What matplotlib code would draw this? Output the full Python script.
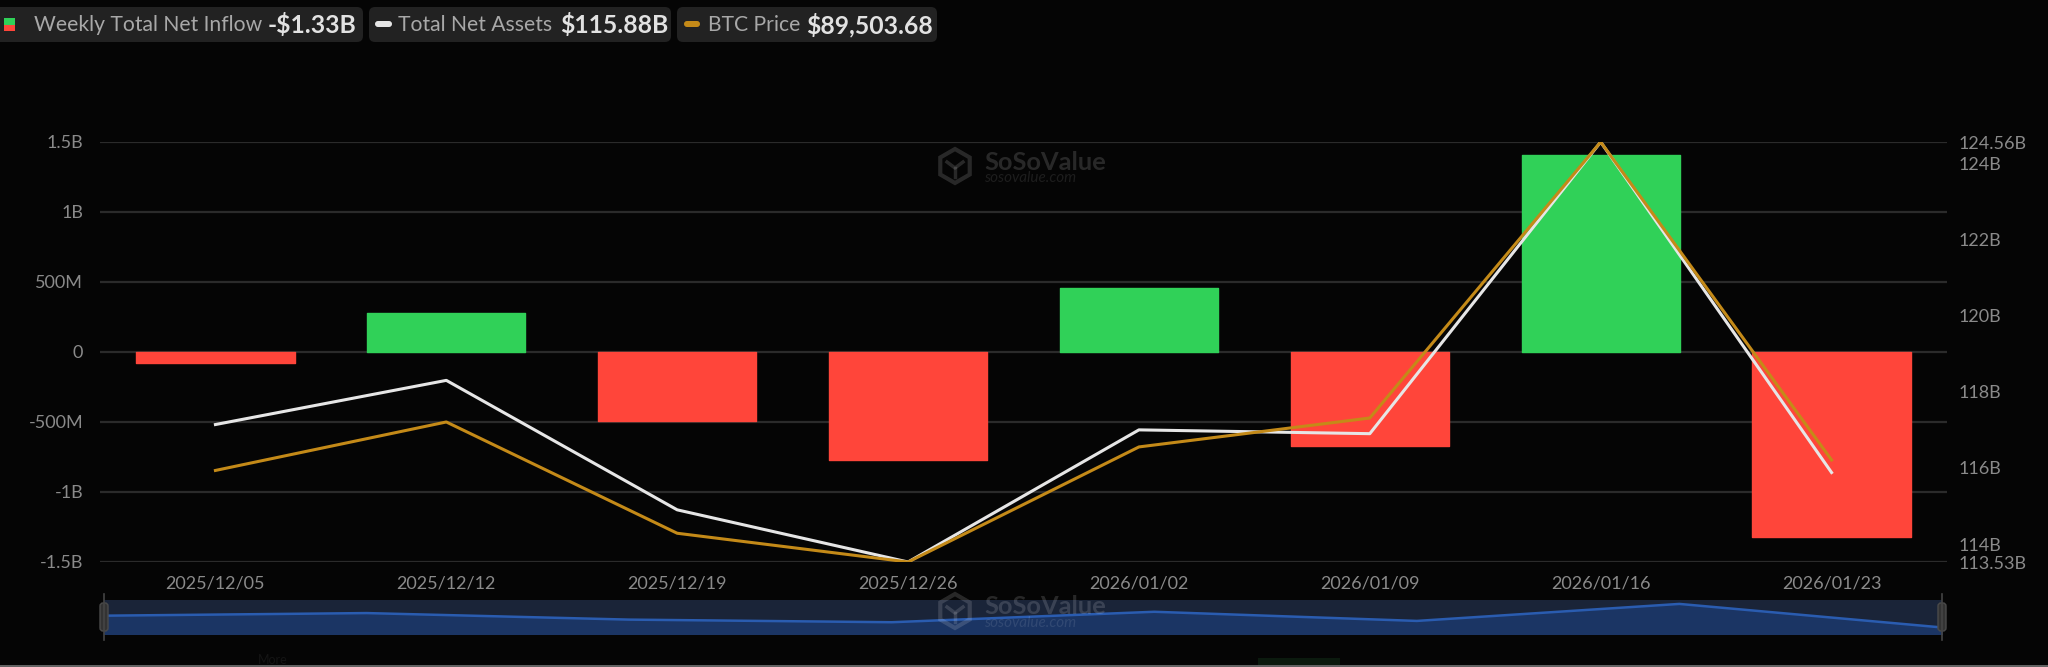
import matplotlib
matplotlib.use("Agg")
import matplotlib.pyplot as plt
from matplotlib.patches import FancyBboxPatch, RegularPolygon, Rectangle

plt.rcParams['font.family'] = ['Lato', 'DejaVu Sans']

dates = ["2025/12/05", "2025/12/12", "2025/12/19", "2025/12/26",
         "2026/01/02", "2026/01/09", "2026/01/16", "2026/01/23"]
net_inflow = [-0.075, 0.28, -0.49, -0.77, 0.455, -0.67, 1.41, -1.32]
net_assets = [117.14, 118.3, 114.9, 113.53, 117.0, 116.9, 124.56, 115.88]
btc_price = [89277, 90324, 87921, 87300, 89785, 90410, 96370, 89503.68]
nav_values = [14, 16, 11, 9, 17, 10, 23, 5]

left_ticks = [-1.5, -1, -0.5, 0, 0.5, 1, 1.5]
left_labels = ["-1.5B", "-1B", "-500M", "0", "500M", "1B", "1.5B"]
right_ticks = [113.53, 114, 116, 118, 120, 122, 124, 124.56]
right_labels = ["113.53B", "114B", "116B", "118B", "120B", "122B", "124B", "124.56B"]

BG = "#050505"
GREEN = "#30d158"
RED = "#ff453a"
GOLD = "#c48a18"
WHITE = "#e6e6e6"
GREY = "#8a8a8a"

W, H = 2048, 667
fig = plt.figure(figsize=(W / 100, H / 100), dpi=100, facecolor=BG)


def px_axes(x0, y0, x1, y1):
    return fig.add_axes([x0 / W, 1 - y1 / H, (x1 - x0) / W, (y1 - y0) / H])


ax = px_axes(100, 142, 1947, 562)
ax.set_facecolor("none")
xs = range(len(dates))
colors = [GREEN if v >= 0 else RED for v in net_inflow]
# same colour edge with round joins gives the small corner radius
ax.bar(xs, net_inflow, width=0.685, color=colors, edgecolor=colors, lw=1.0, joinstyle="round", zorder=2)
ax.set_xlim(-0.5, 7.5)
ax.set_ylim(-1.5, 1.5)
ax.set_yticks(left_ticks)
ax.set_yticklabels(left_labels)
ax.set_xticks(list(xs))
ax.set_xticklabels(dates)
ax.grid(axis="y", color="#2b2b2b", lw=1.6, zorder=0)
ax.tick_params(axis="both", length=0, colors=GREY, labelsize=13)
ax.tick_params(axis="x", pad=10)
ax.tick_params(axis="y", pad=12)
for s in ax.spines.values():
    s.set_visible(False)

ax2 = ax.twinx()
ax2.plot(xs, net_assets, color=WHITE, lw=2.2, zorder=4)
ax2.set_ylim(113.53, 124.56)
ax2.set_yticks(right_ticks)
ax2.set_yticklabels(right_labels)
ax2.tick_params(axis="y", length=0, colors=GREY, labelsize=13, pad=8)
for s in ax2.spines.values():
    s.set_visible(False)

ax3 = ax.twinx()
ax3.plot(xs, btc_price, color=GOLD, lw=2.2, zorder=5)
ax3.set_ylim(87300, 96370)
ax3.axis("off")

# navigator
nav = px_axes(104, 600, 1942, 634)
nav.set_facecolor("#1a2438")
nav.fill_between(xs, nav_values, color="#1b3564")
nav.plot(xs, nav_values, color="#2a5cb0", lw=1.8)
nav.set_xlim(0, 7)
nav.set_ylim(0, 26)
nav.set_xticks([])
nav.set_yticks([])
for s in nav.spines.values():
    s.set_visible(False)

# overlay in pixel space for legend, watermark and navigator handles
ov = fig.add_axes([0, 0, 1, 1], zorder=10)
ov.set_xlim(0, W)
ov.set_ylim(H, 0)
ov.axis("off")


def pill(x0, x1):
    ov.add_patch(FancyBboxPatch((x0, 7), x1 - x0, 35, boxstyle="round,pad=0,rounding_size=6",
                                fc="#222222", ec="none"))


pill(-8, 363)
pill(369, 671)
pill(677, 937)

ov.add_patch(Rectangle((4, 18), 11, 7, fc=GREEN, ec="none"))
ov.add_patch(Rectangle((4, 25), 11, 6, fc=RED, ec="none"))
ov.add_patch(FancyBboxPatch((375, 21), 17, 6, boxstyle="round,pad=0,rounding_size=3", fc=WHITE, ec="none"))
ov.add_patch(FancyBboxPatch((684, 21), 16, 6, boxstyle="round,pad=0,rounding_size=3", fc=GOLD, ec="none"))

legend_names = [(34, "Weekly Total Net Inflow"), (398, "Total Net Assets"), (708, "BTC Price")]
legend_values = [(268, "-$1.33B"), (560, "$115.88B"), (806, "$89,503.68")]
for x, t in legend_names:
    ov.text(x, 25, t, color="#a8a8a8", fontsize=15.2, va="center", ha="left")
for x, t in legend_values:
    ov.text(x, 25, t, color="#e2e2e2", fontsize=17.8, fontweight="bold", va="center", ha="left")


def watermark(x, y, alpha):
    col = (1, 1, 1, alpha)
    ov.add_patch(RegularPolygon((x, y), 6, radius=17, fc="none", ec=col, lw=3))
    ov.plot([x - 8, x, x + 8], [y - 4, y + 2, y - 4], color=col, lw=2.5)
    ov.plot([x, x], [y + 2, y + 11], color=col, lw=2.5)
    ov.text(x + 29, y - 4, "SoSoValue", color=col, fontsize=18.3, fontweight="bold", va="center", ha="left")
    ov.text(x + 29, y + 12, "sosovalue.com", color=(1, 1, 1, alpha * 0.7), fontsize=11, style="italic",
            va="center", ha="left")


watermark(955, 166, 0.14)
watermark(955, 611, 0.14)

for hx in (104, 1942):
    ov.plot([hx, hx], [594, 640], color="#444444", lw=1.2)
    ov.add_patch(FancyBboxPatch((hx - 4, 603), 8, 28, boxstyle="round,pad=0,rounding_size=3",
                                fc="#333333", ec="#4a4a4a", lw=1))

# dimmed page content under the chart
ov.text(258, 660, "More", color="#141414", fontsize=9, va="center", ha="left")
ov.add_patch(Rectangle((1258, 658), 82, 7, fc="#0b1a0e", ec="none"))
ov.plot([0, W], [666, 666], color="#777777", lw=1.2)

fig.savefig("out.png", dpi=100, facecolor=BG)
